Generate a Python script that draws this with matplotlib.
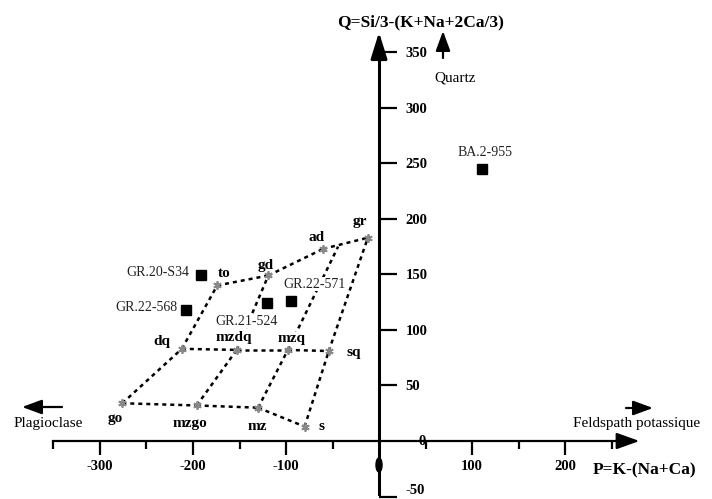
import matplotlib
matplotlib.use("Agg")
import matplotlib.pyplot as plt
from matplotlib.patches import Ellipse

# ---- data ----
vertex_names = ['go', 'mzgo', 'mz', 's', 'dq', 'mzdq', 'mzq', 'sq', 'to', 'gd', 'ad', 'gr']
vertex_P = [-276, -196, -130, -80, -212, -153, -98, -54, -174, -119, -60, -12]
vertex_Q = [34, 32, 30, 13, 83, 82, 82, 81, 140, 149, 173, 183]
# extra node on the ad-gr boundary
extra_P = [-44]
extra_Q = [175]
segments = [('go', 'mzgo'), ('mzgo', 'mz'), ('mz', 's'),
            ('dq', 'mzdq'), ('mzdq', 'mzq'), ('mzq', 'sq'),
            ('to', 'gd'), ('gd', 'ad'), ('ad', 'gr'),
            ('go', 'dq'), ('dq', 'to'),
            ('mzgo', 'mzdq'), ('mzdq', 'gd'),
            ('mz', 'mzq'), ('mzq', 'adgr'),
            ('s', 'sq'), ('sq', 'gr')]

sample_names = ['GR.20-S34', 'GR.22-568', 'GR.21-524', 'GR.22-571', 'BA.2-955']
sample_P = [-191, -207, -120, -95, 111]
sample_Q = [149, 118, 124, 126, 245]

xticks_major = [-300, -200, -100, 100, 200]
xticks_minor = [-350, -250, -150, -50, 50, 150, 250]
yticks = [-50, 50, 100, 150, 200, 250, 300, 350]

SERIF = ['Liberation Serif', 'DejaVu Serif']

fig = plt.figure(figsize=(7.12, 4.99), dpi=100)
ax = fig.add_axes([0, 0, 1, 1])
ax.set_xlim(-407.5, 358)
ax.set_ylim(-52.2, 397)
ax.patch.set_visible(False)

# axes spines as crossing axes
ax.spines['left'].set_visible(False)
ax.spines['top'].set_visible(False)
ax.spines['bottom'].set_position(('data', 0))
ax.spines['bottom'].set_bounds(-350, 268)
ax.spines['bottom'].set_linewidth(1.6)
ax.spines['right'].set_position(('data', 0))
ax.spines['right'].set_bounds(-48, 355)
ax.spines['right'].set_linewidth(2.2)

ax.xaxis.set_ticks_position('bottom')
ax.yaxis.set_ticks_position('right')
ax.set_xticks(xticks_major)
ax.set_xticks(xticks_minor, minor=True)
ax.set_xticklabels([str(v) for v in xticks_major], fontfamily=SERIF,
                   fontweight='bold', fontsize=10.5)
ax.tick_params(axis='x', which='major', direction='out', length=10, width=1.6, pad=4)
ax.tick_params(axis='x', which='minor', direction='out', length=6, width=1.6)
ax.set_yticks(yticks)
ax.set_yticklabels([str(v) for v in yticks], fontfamily=SERIF,
                   fontweight='bold', fontsize=10.5)
ax.tick_params(axis='y', which='major', direction='out', length=13, width=1.6, pad=6)
for lab in ax.get_yticklabels():
    lab.set_horizontalalignment('left')
ax.get_yticklabels()[0].set_verticalalignment('bottom')

# "0" labels
ax.annotate('0', xy=(0, 0), xytext=(31, 0), textcoords='offset points',
            ha='center', va='center', fontfamily=SERIF, fontweight='bold', fontsize=10.5)
ax.add_patch(Ellipse((0, -21.6), 6.5, 12.6, color='black'))

# axis arrows
ax.annotate('', xy=(280, 0), xytext=(262, 0),
            arrowprops=dict(arrowstyle='-|>,head_length=0.7,head_width=0.25',
                            color='black', lw=1.6, mutation_scale=20,
                            shrinkA=0, shrinkB=0))
ax.annotate('', xy=(0, 368), xytext=(0, 350),
            arrowprops=dict(arrowstyle='-|>,head_length=0.8,head_width=0.25',
                            color='black', lw=2.2, mutation_scale=20,
                            shrinkA=0, shrinkB=0))

# grid of the diagram
coords = {n: (p, q) for n, p, q in zip(vertex_names, vertex_P, vertex_Q)}
coords['adgr'] = (extra_P[0], extra_Q[0])
for a, b in segments:
    ax.plot([coords[a][0], coords[b][0]], [coords[a][1], coords[b][1]],
            color='black', lw=1.8, linestyle=(0, (1.6, 1.6)), zorder=2)

ax.plot(vertex_P, vertex_Q, linestyle='none', marker=(6, 2, 0), markersize=6,
        markeredgewidth=1.3, color='#888888', zorder=3)

vertex_offsets = {'gr': (-8, 16), 'ad': (-7, 11), 'gd': (-3, 10), 'to': (7, 12),
                  'dq': (-20, 7), 'mzdq': (-3, 12), 'mzq': (4, 11), 'sq': (25, -1),
                  'go': (-7, -15), 'mzgo': (-7, -18), 'mz': (-1, -19), 's': (17, 0)}
masked = {'mzdq', 'mzq'}
for n, p, q in zip(vertex_names, vertex_P, vertex_Q):
    dx, dy = vertex_offsets[n]
    bb = dict(fc='white', ec='none', pad=0.2) if n in masked else None
    ax.annotate(n, xy=(p, q), xytext=(dx * 0.72, dy * 0.72), textcoords='offset points',
                ha='center', va='center', fontfamily=SERIF, fontweight='bold',
                fontsize=11, zorder=4, bbox=bb)

# samples
ax.plot(sample_P, sample_Q, linestyle='none', marker='s', markersize=6.5,
        color='black', zorder=5)
sample_offsets = {'GR.20-S34': (-12, 3, 'right'), 'GR.22-568': (-9, 2, 'right'),
                  'GR.21-524': (-21, -18, 'center'), 'GR.22-571': (24, 17, 'center'),
                  'BA.2-955': (3, 16, 'center')}
for n, p, q in zip(sample_names, sample_P, sample_Q):
    dx, dy, ha = sample_offsets[n]
    ax.annotate(n, xy=(p, q), xytext=(dx * 0.72, dy * 0.72), textcoords='offset points',
                ha=ha, va='center', fontfamily=SERIF, fontsize=10, color='#222222',
                bbox=dict(fc='white', ec='none', pad=0.3), zorder=4)

# axis titles and directional annotations (figure-fraction coordinates)
W, H = 712.0, 499.0
def fxy(x, y):
    return (x / W, 1 - y / H)

fig.text(*fxy(421, 22), 'Q=Si/3-(K+Na+2Ca/3)', ha='center', va='center',
         fontfamily=SERIF, fontweight='bold', fontsize=12.5)
fig.text(*fxy(645, 470), 'P=K-(Na+Ca)', ha='center', va='center',
         fontfamily=SERIF, fontweight='bold', fontsize=12.5)
fig.text(*fxy(455, 78), 'Quartz', ha='center', va='center',
         fontfamily=SERIF, fontsize=11)
fig.text(*fxy(48, 423), 'Plagioclase', ha='center', va='center',
         fontfamily=SERIF, fontsize=11)
fig.text(*fxy(637, 423), 'Feldspath potassique', ha='center', va='center',
         fontfamily=SERIF, fontsize=11)

arrow_kw = dict(arrowstyle='-|>,head_length=0.6,head_width=0.22', color='black',
                lw=1.6, mutation_scale=20, shrinkA=0, shrinkB=0)
ax.annotate('', xy=fxy(443, 31), xytext=fxy(443, 58), xycoords='figure fraction',
            textcoords='figure fraction', arrowprops=arrow_kw)
ax.annotate('', xy=fxy(22, 407), xytext=fxy(62, 407), xycoords='figure fraction',
            textcoords='figure fraction', arrowprops=arrow_kw)
ax.annotate('', xy=fxy(653, 408), xytext=fxy(626, 408), xycoords='figure fraction',
            textcoords='figure fraction', arrowprops=arrow_kw)

fig.savefig('out.png', dpi=100)
